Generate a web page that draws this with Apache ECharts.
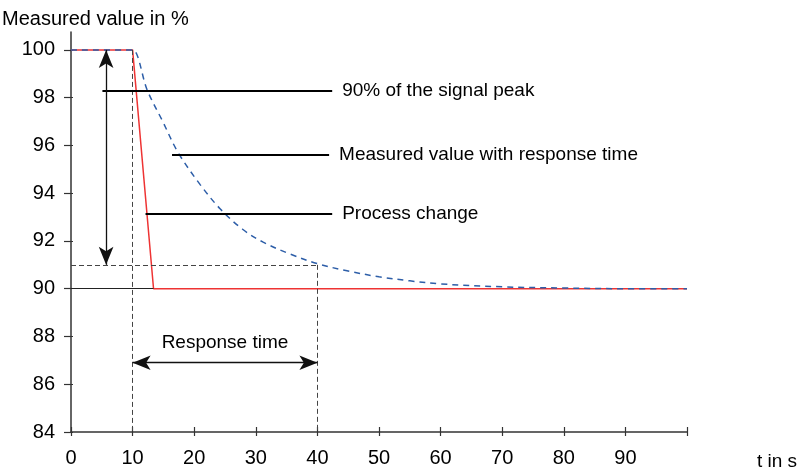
<!DOCTYPE html>
<html>
<head>
<meta charset="utf-8">
<script src="https://cdn.jsdelivr.net/npm/echarts@6/dist/echarts.min.js"></script>
<style>
  html, body { margin: 0; padding: 0; background: #fff; }
  #response-chart { width: 801px; height: 472px; }
</style>
</head>
<body>
<div id="response-chart"></div>
<script>
// tick labels
var xTicks = [0, 10, 20, 30, 40, 50, 60, 70, 80, 90, 100]
var xLabels = [0, 10, 20, 30, 40, 50, 60, 70, 80, 90]
var yTicks = [84, 86, 88, 90, 92, 94, 96, 98, 100]

// process change (red)
var processTime = [0, 10, 13.4, 100]
var processValue = [100, 100, 90, 90]

// measured value with response time (blue dashed)
var measuredTime = [0, 9, 10, 12.4, 14.8, 17.4, 21, 24.2, 27.8, 31.2, 35.6, 40, 44.8, 50, 55, 60, 70, 80, 90, 100]
var measuredValue = [100, 100, 100, 98.3, 97.05, 95.7, 94.35, 93.35, 92.5, 91.95, 91.45, 91.05, 90.75, 90.5, 90.33, 90.2, 90.08, 90.03, 90, 90]

// annotation lines [start, end] in data units
var peakLine = [[5.1, 98.28], [42.4, 98.28]]
var measuredLine = [[16.4, 95.63], [41.9, 95.63]]
var processLine = [[12.1, 93.12], [42.4, 93.12]]
var spanArrow = [[5.7, 100], [5.7, 91]]
var responseArrow = [[10, 86.9], [40, 86.9]]
var level91 = [[0, 91], [40, 91]]
var start10 = [[10, 100], [10, 84]]
var end40 = [[40, 91], [40, 84]]
var level90 = [[0, 90], [13.4, 90]]

var labelPeak = '90% of the signal peak'
var labelMeasured = 'Measured value with response time'
var labelProcess = 'Process change'
var labelResponse = 'Response time'

var FONT = 'Liberation Sans, Arial, sans-serif'

function pairs(xs, ys) {
  return xs.map(function (x, i) { return [x, ys[i]] })
}

function guide(pts, opts) {
  opts = opts || {}
  return {
    type: 'line',
    data: [],
    silent: true,
    markLine: {
      silent: true,
      animation: false,
      symbol: opts.symbol || ['none', 'none'],
      symbolSize: opts.symbolSize || [10, 16],
      lineStyle: opts.lineStyle || { color: '#000', width: 2, type: 'solid' },
      label: opts.label || { show: false },
      emphasis: { disabled: true },
      data: [[{ coord: pts[0] }, { coord: pts[1] }]]
    }
  }
}

function endLabel(text) {
  return {
    show: true,
    position: 'end',
    distance: 10,
    formatter: text,
    color: '#000',
    fontSize: 19,
    fontFamily: FONT
  }
}

var dashed = { color: '#444', width: 1, type: [5, 3] }

var chart = echarts.init(document.getElementById('response-chart'))
var option = {
  animation: false,
  title: {
    text: 'Measured value in %',
    left: -3,
    top: 4,
    textStyle: { fontSize: 20, fontWeight: 'normal', color: '#000', fontFamily: FONT }
  },
  grid: { left: 71, right: 114, top: 32, bottom: 40 },
  xAxis: [
    {
      type: 'value',
      min: 0,
      max: 100,
      interval: 10,
      name: 't in s',
      nameLocation: 'end',
      nameGap: 70,
      nameTextStyle: { fontSize: 19, color: '#000', fontFamily: FONT, verticalAlign: 'top', padding: [20, 0, 0, 0] },
      axisLine: { lineStyle: { color: '#333', width: 1.5 } },
      axisTick: { length: 4, customValues: xTicks, lineStyle: { color: '#333', width: 1.2 } },
      axisLabel: { customValues: xLabels, margin: 16, fontSize: 20, color: '#000', fontFamily: FONT },
      splitLine: { show: false }
    },
    {
      type: 'value',
      min: 0,
      max: 100,
      interval: 10,
      position: 'bottom',
      axisLine: { show: false },
      axisTick: { inside: true, length: 5, customValues: xTicks, lineStyle: { color: '#333', width: 1.2 } },
      axisLabel: { show: false },
      splitLine: { show: false }
    }
  ],
  yAxis: [
    {
      type: 'value',
      min: 84,
      max: 100.75,
      axisLine: { show: true, lineStyle: { color: '#333', width: 1.5 } },
      axisTick: { show: true, length: 7, customValues: yTicks, lineStyle: { color: '#333', width: 1.2 } },
      axisLabel: { customValues: yTicks, margin: 16, fontSize: 20, color: '#000', fontFamily: FONT },
      splitLine: { show: false }
    },
    {
      type: 'value',
      min: 84,
      max: 100.75,
      position: 'left',
      axisLine: { show: false },
      axisTick: { show: true, inside: true, length: 2, customValues: yTicks, lineStyle: { color: '#333', width: 1.2 } },
      axisLabel: { show: false },
      splitLine: { show: false }
    }
  ],
  series: [
    guide(level91, { lineStyle: dashed }),
    guide(start10, { lineStyle: dashed }),
    guide(end40, { lineStyle: dashed }),
    guide(level90, { lineStyle: { color: '#222', width: 1, type: 'solid' } }),
    {
      name: 'Process change',
      type: 'line',
      data: pairs(processTime, processValue),
      symbol: 'none',
      lineStyle: { color: '#ee3333', width: 1.5 },
      z: 3
    },
    {
      name: 'Measured value',
      type: 'line',
      data: pairs(measuredTime, measuredValue),
      symbol: 'none',
      smooth: 0.35,
      lineStyle: { color: '#2d5ea8', width: 1.5, type: [6, 5] },
      z: 4
    },
    guide(peakLine, { label: endLabel(labelPeak) }),
    guide(measuredLine, { label: endLabel(labelMeasured) }),
    guide(processLine, { label: endLabel(labelProcess) }),
    guide(spanArrow, {
      symbol: ['arrow', 'arrow'],
      symbolSize: [11, 18],
      lineStyle: { color: '#111', width: 1.3, type: 'solid' }
    }),
    guide(responseArrow, {
      symbol: ['arrow', 'arrow'],
      symbolSize: [11, 18],
      lineStyle: { color: '#111', width: 1.3, type: 'solid' },
      label: {
        show: true,
        position: 'insideMiddleTop',
        distance: 10,
        formatter: labelResponse,
        color: '#000',
        fontSize: 19,
        fontFamily: FONT
      }
    })
  ]
}
chart.setOption(option, true)
</script>
</body>
</html>
